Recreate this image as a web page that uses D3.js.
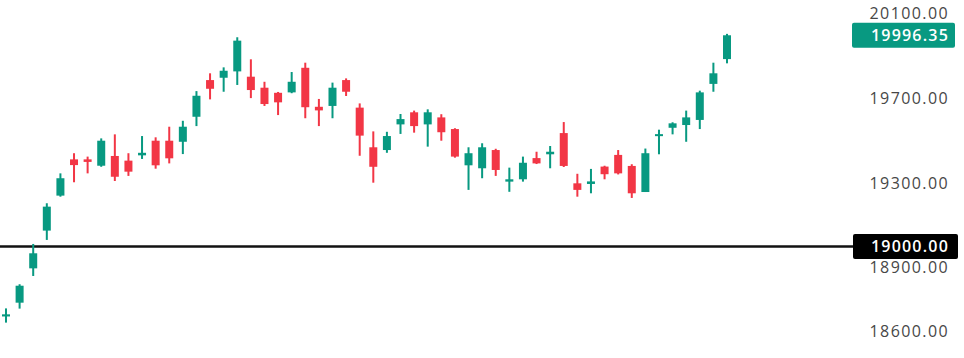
<!DOCTYPE html>
<html lang="en">
<head>
    <meta charset="UTF-8">
    <title>Candles</title>
    <script src="https://d3js.org/d3.v7.min.js"></script>
    <style>
        body { margin: 0; background: #fff; }
        .tick-label {
            font-family: "Open Sans", sans-serif;
            font-size: 16px;
            letter-spacing: 1.4px;
            fill: #474747;
        }
        .box-label {
            font-family: "Open Sans", sans-serif;
            font-size: 16px;
            font-weight: 600;
            letter-spacing: 1.2px;
            fill: #fff;
        }
    </style>
</head>
<body>
    <script>
        // OHLC per session
        var opens  = [18670, 18735, 18897, 19075, 19240, 19411, 19411, 19381, 19427, 19405,
                      19430, 19499, 19499, 19494, 19612, 19785, 19796, 19826, 19801, 19749,
                      19725, 19727, 19843, 19659, 19663, 19785, 19655, 19468, 19455, 19576,
                      19633, 19576, 19609, 19554, 19383, 19369, 19455, 19306, 19317, 19417,
                      19435, 19535, 19298, 19295, 19377, 19432, 19380, 19257, 19521, 19560,
                      19573, 19597, 19767, 19884];
        var highs  = [18708, 18822, 19012, 19204, 19345, 19440, 19424, 19510, 19529, 19440,
                      19521, 19515, 19565, 19593, 19733, 19817, 19845, 19987, 19883, 19777,
                      19729, 19823, 19867, 19696, 19773, 19793, 19675, 19543, 19541, 19625,
                      19641, 19647, 19624, 19558, 19468, 19487, 19461, 19372, 19424, 19447,
                      19474, 19587, 19343, 19366, 19381, 19455, 19388, 19462, 19551, 19586,
                      19641, 19735, 19867, 20003];
        var lows   = [18641, 18707, 18861, 19031, 19235, 19303, 19345, 19376, 19309, 19333,
                      19413, 19367, 19392, 19436, 19568, 19694, 19730, 19762, 19700, 19663,
                      19620, 19723, 19605, 19568, 19605, 19710, 19428, 19301, 19442, 19531,
                      19537, 19471, 19499, 19419, 19267, 19322, 19333, 19258, 19306, 19389,
                      19369, 19375, 19235, 19251, 19317, 19340, 19229, 19257, 19435, 19529,
                      19494, 19554, 19730, 19864];
        var closes = [18680, 18815, 18968, 19188, 19322, 19384, 19399, 19499, 19329, 19353,
                      19442, 19383, 19416, 19565, 19711, 19744, 19829, 19971, 19738, 19672,
                      19680, 19777, 19657, 19642, 19749, 19730, 19523, 19376, 19521, 19601,
                      19568, 19633, 19539, 19424, 19440, 19468, 19361, 19317, 19395, 19392,
                      19447, 19380, 19267, 19307, 19341, 19345, 19251, 19440, 19530, 19581,
                      19609, 19727, 19817, 19996.35];

        var tickValues = [20100, 19700, 19300, 18900, 18600];
        var levelLine = 19000;
        var lastPrice = 19996.35;

        var width = 964, height = 358;
        var upColor = "#089981", downColor = "#f23645";

        var svg = d3.select("body").append("svg")
            .attr("width", width)
            .attr("height", height);

        var x = d3.scaleLinear().domain([0, closes.length - 1]).range([6, 727]);
        var y = d3.scaleLinear().domain([18600, 20100]).range([331.3, 13.3]);

        var candles = d3.range(closes.length).map(function(i) {
            return {i: i, o: opens[i], h: highs[i], l: lows[i], c: closes[i]};
        });

        // horizontal level line
        svg.append("line")
            .attr("x1", 0)
            .attr("x2", 853)
            .attr("y1", y(levelLine))
            .attr("y2", y(levelLine))
            .attr("stroke", "#111")
            .attr("stroke-width", 2.5);

        var g = svg.append("g");

        // wicks
        g.selectAll(".wick")
            .data(candles)
            .enter().append("rect")
            .attr("class", "wick")
            .attr("x", function(d) { return x(d.i) - 1; })
            .attr("width", 2)
            .attr("y", function(d) { return y(d.h); })
            .attr("height", function(d) { return y(d.l) - y(d.h); })
            .attr("fill", function(d) { return d.c >= d.o ? upColor : downColor; });

        // bodies
        g.selectAll(".body")
            .data(candles)
            .enter().append("rect")
            .attr("class", "body")
            .attr("x", function(d) { return x(d.i) - 4; })
            .attr("width", 8)
            .attr("y", function(d) { return y(Math.max(d.o, d.c)); })
            .attr("height", function(d) { return Math.max(2, Math.abs(y(d.o) - y(d.c))); })
            .attr("fill", function(d) { return d.c >= d.o ? upColor : downColor; });

        // right price scale
        svg.selectAll(".tick-label")
            .data(tickValues)
            .enter().append("text")
            .attr("class", "tick-label")
            .attr("x", 949)
            .attr("y", function(d) { return y(d); })
            .attr("dy", "0.36em")
            .attr("text-anchor", "end")
            .text(function(d) { return d3.format(".2f")(d); });

        // level label
        svg.append("rect")
            .attr("x", 853).attr("width", 105)
            .attr("y", y(levelLine) - 12.5).attr("height", 25)
            .attr("rx", 2)
            .attr("fill", "#000");
        svg.append("text")
            .attr("class", "box-label")
            .attr("x", 949)
            .attr("y", y(levelLine))
            .attr("dy", "0.36em")
            .attr("text-anchor", "end")
            .text(d3.format(".2f")(levelLine));

        // last price label
        svg.append("rect")
            .attr("x", 852).attr("width", 103)
            .attr("y", y(lastPrice) - 12.5).attr("height", 25)
            .attr("rx", 2)
            .attr("fill", upColor);
        svg.append("text")
            .attr("class", "box-label")
            .attr("x", 949)
            .attr("y", y(lastPrice))
            .attr("dy", "0.36em")
            .attr("text-anchor", "end")
            .text(d3.format(".2f")(lastPrice));
    </script>
</body>
</html>
